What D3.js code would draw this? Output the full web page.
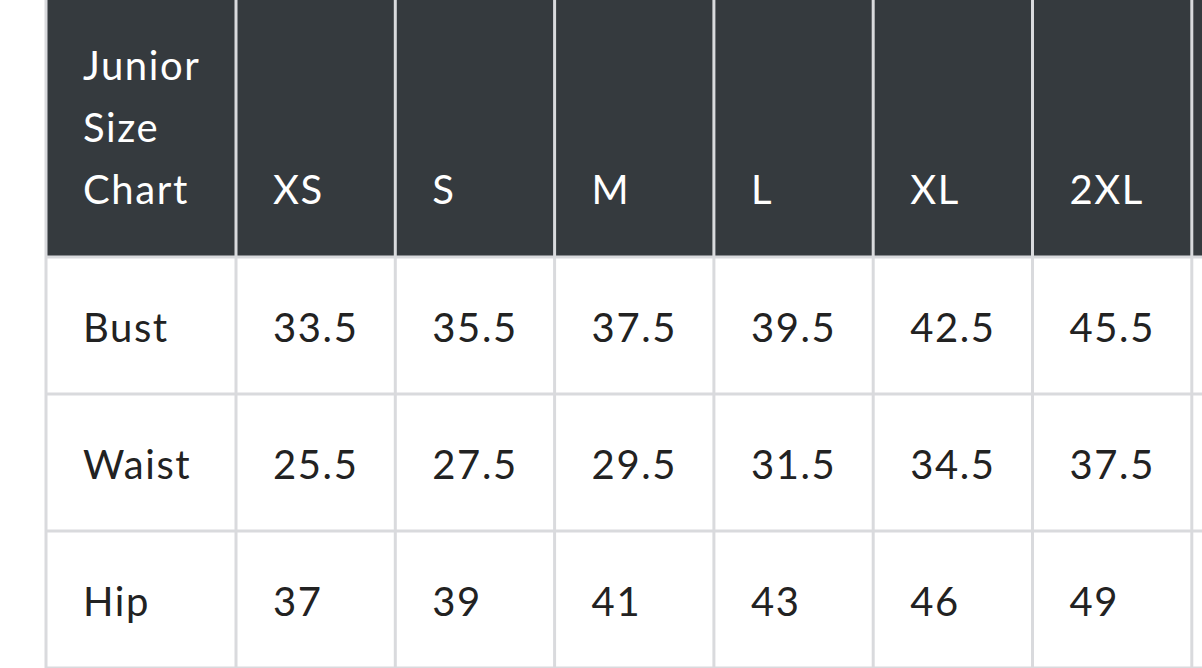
<!DOCTYPE html>
<html><head><meta charset="utf-8">
<script src="https://cdn.jsdelivr.net/npm/d3@7"></script>
<style>body{margin:0;background:#fff;overflow:hidden}</style>
</head><body>
<svg id="c" width="1202" height="668"></svg>
<script>
const headerLines = ["Junior","Size","Chart"];
const sizes = ["XS","S","M","L","XL","2XL",""];
const measures = ["Bust","Waist","Hip"];
const bust = ["33.5","35.5","37.5","39.5","42.5","45.5",""];
const waist = ["25.5","27.5","29.5","31.5","34.5","37.5",""];
const hip = ["37","39","41","43","46","49",""];
const values = [bust, waist, hip];

const svg = d3.select("#c");
const border = "#d9dadd", dark = "#353a3e", font = "Lato, 'Open Sans', sans-serif";
const x0 = 46, firstW = 190, colW = 159.3;
const x = d3.scaleBand().domain(sizes).range([x0+firstW, x0+firstW+colW*sizes.length]).padding(0);
const headH = 257;
const y = d3.scaleBand().domain(measures).range([headH, headH+137*3]).padding(0);

svg.append("rect").attr("x",x0).attr("y",-5).attr("width",1300).attr("height",headH+5).attr("fill",dark);
svg.selectAll(".row").data(measures).join("rect")
  .attr("x",x0).attr("y",d=>y(d)).attr("width",1300).attr("height",y.bandwidth()).attr("fill","#fff");
const vx = [x0, ...sizes.map(s=>x(s))];
svg.selectAll(".v").data(vx).join("line")
  .attr("x1",d=>d).attr("x2",d=>d).attr("y1",-5).attr("y2",700)
  .attr("stroke",border).attr("stroke-width",3);
const hy = [headH, ...measures.map(m=>y(m)+y.bandwidth())];
svg.selectAll(".h").data(hy).join("line")
  .attr("x1",x0).attr("x2",1300).attr("y1",d=>d).attr("y2",d=>d)
  .attr("stroke",border).attr("stroke-width",3);

const fs = 40, ls = 1.6;
svg.selectAll(".hl").data(headerLines).join("text")
  .attr("x",x0+37).attr("y",(d,i)=>80+i*62).text(d=>d)
  .attr("fill","#fff").attr("font-family",font).attr("font-size",fs).attr("letter-spacing",ls);
svg.selectAll(".hs").data(sizes).join("text")
  .attr("x",d=>x(d)+37).attr("y",204).text(d=>d)
  .attr("fill","#fff").attr("font-family",font).attr("font-size",fs).attr("letter-spacing",ls);
measures.forEach((m,ri)=>{
  const by = y(m)+y.bandwidth()/2+16;
  svg.append("text").attr("x",x0+37).attr("y",by).text(m)
    .attr("fill","#222").attr("font-family",font).attr("font-size",fs).attr("letter-spacing",ls);
  svg.selectAll(".v"+ri).data(values[ri]).join("text")
    .attr("x",(d,i)=>x(sizes[i])+37).attr("y",by).text(d=>d)
    .attr("fill","#222").attr("font-family",font).attr("font-size",fs).attr("letter-spacing",ls);
});
</script>
</body></html>
